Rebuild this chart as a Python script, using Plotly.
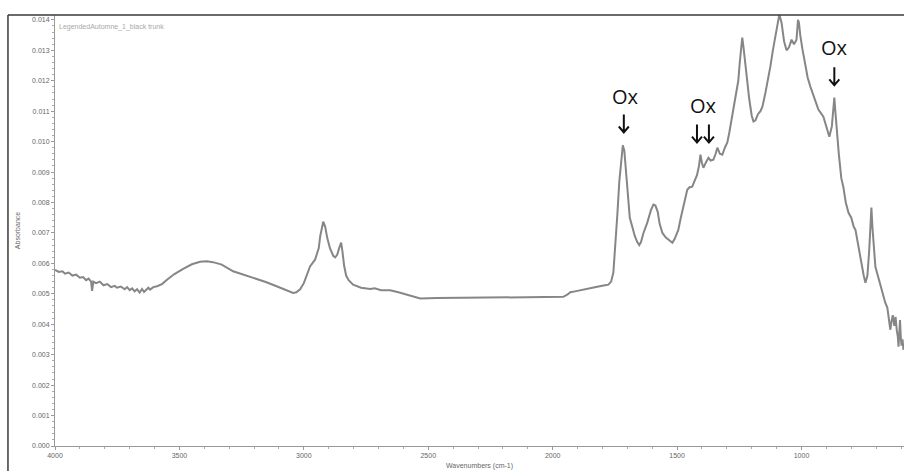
import plotly.graph_objects as go

# FTIR spectrum: wavenumber (cm-1) and absorbance
wavenumber = [
    4000, 3985, 3970, 3960, 3945, 3930, 3915, 3900, 3887, 3875, 3865, 3855,
    3851, 3846, 3835, 3820, 3805, 3790, 3775, 3760, 3751, 3735, 3720, 3710,
    3700, 3690, 3680, 3670, 3660, 3650, 3642, 3635, 3625, 3618, 3605, 3590,
    3570, 3550, 3520, 3485, 3450, 3417, 3390, 3365, 3330, 3284, 3240, 3188,
    3150, 3107, 3070, 3043, 3030, 3015, 3000, 2990, 2975, 2955, 2940, 2934,
    2922, 2914, 2906, 2895, 2882, 2874, 2866, 2858, 2850, 2845, 2838, 2830,
    2820, 2802, 2770, 2733, 2715, 2690, 2653, 2620, 2585, 2532, 2464, 2291,
    2100, 1957, 1940, 1929, 1910, 1890, 1861, 1840, 1821, 1800, 1790, 1776,
    1765, 1756, 1748, 1740, 1732, 1725, 1718, 1712, 1705, 1700, 1696, 1690,
    1680, 1670, 1660, 1652, 1645, 1635, 1620, 1605, 1595, 1587, 1578, 1570,
    1559, 1545, 1530, 1519, 1510, 1500, 1495, 1485, 1475, 1465, 1459, 1450,
    1439, 1430, 1420, 1412, 1406, 1400, 1394, 1385, 1374, 1365, 1354, 1345,
    1338, 1328, 1318, 1308, 1298, 1290, 1282, 1274, 1265, 1254, 1248, 1242,
    1238, 1233, 1228, 1220, 1210, 1200, 1193, 1185, 1175, 1165, 1157, 1145,
    1135, 1125, 1115, 1105, 1097, 1089, 1080, 1070, 1060, 1050, 1040, 1030,
    1020, 1014, 1010, 1005, 996, 985, 975, 964, 950, 932, 912, 900,
    888, 878, 872, 868, 864, 858, 850, 840, 832, 822, 811, 800,
    790, 783, 770, 760, 750, 743, 735, 728, 723, 719, 715, 710,
    703, 690, 675, 668, 663, 655, 648, 643, 638, 633, 627, 622,
    617, 613, 610, 606, 604, 601, 598, 594, 590,
]
absorbance = [
    0.00579, 0.00572, 0.00574, 0.00566, 0.00570, 0.00560, 0.00563, 0.00553, 0.00555, 0.00545, 0.00550, 0.00540,
    0.00510, 0.00540, 0.00535, 0.00540, 0.00528, 0.00532, 0.00522, 0.00526, 0.00520, 0.00524, 0.00515, 0.00522,
    0.00512, 0.00518, 0.00508, 0.00515, 0.00504, 0.00516, 0.00506, 0.00512, 0.00520, 0.00514, 0.00522, 0.00525,
    0.00532, 0.00546, 0.00565, 0.00582, 0.00597, 0.00605, 0.00607, 0.00604, 0.00596, 0.00574, 0.00562, 0.00550,
    0.00538, 0.00524, 0.00512, 0.00503, 0.00505, 0.00515, 0.00535, 0.00555, 0.00590, 0.00612, 0.00650, 0.00690,
    0.00737, 0.00720, 0.00684, 0.00650, 0.00625, 0.00620, 0.00628, 0.00650, 0.00668, 0.00640, 0.00592, 0.00560,
    0.00545, 0.00530, 0.00520, 0.00516, 0.00518, 0.00512, 0.00512, 0.00505, 0.00497, 0.00485, 0.00486, 0.00487,
    0.00488, 0.00490, 0.00498, 0.00505, 0.00508, 0.00512, 0.00516, 0.00520, 0.00523, 0.00525, 0.00528, 0.00530,
    0.00540, 0.00570, 0.00650, 0.00760, 0.00870, 0.00940, 0.00988, 0.00970, 0.00900, 0.00830, 0.00786, 0.00750,
    0.00720, 0.00690, 0.00670, 0.00660, 0.00670, 0.00700, 0.00733, 0.00775, 0.00793, 0.00790, 0.00770, 0.00730,
    0.00700, 0.00685, 0.00675, 0.00668, 0.00680, 0.00700, 0.00710, 0.00750, 0.00790, 0.00830, 0.00842, 0.00850,
    0.00852, 0.00870, 0.00890, 0.00920, 0.00957, 0.00930, 0.00914, 0.00930, 0.00947, 0.00938, 0.00941, 0.00960,
    0.00980, 0.00960, 0.00957, 0.00980, 0.00997, 0.01030, 0.01070, 0.01115, 0.01160, 0.01200, 0.01260, 0.01320,
    0.01342, 0.01310, 0.01270, 0.01210, 0.01140, 0.01085, 0.01066, 0.01070, 0.01090, 0.01100, 0.01115, 0.01160,
    0.01200, 0.01247, 0.01300, 0.01345, 0.01390, 0.01418, 0.01390, 0.01330, 0.01300, 0.01310, 0.01335, 0.01320,
    0.01335, 0.01400, 0.01390, 0.01350, 0.01303, 0.01250, 0.01210, 0.01180, 0.01150, 0.01105, 0.01082, 0.01050,
    0.01016, 0.01050, 0.01120, 0.01145, 0.01100, 0.01030, 0.00960, 0.00880, 0.00852, 0.00800, 0.00766, 0.00750,
    0.00720, 0.00710, 0.00650, 0.00600, 0.00560, 0.00536, 0.00560, 0.00640, 0.00740, 0.00783, 0.00720, 0.00650,
    0.00589, 0.00550, 0.00503, 0.00490, 0.00470, 0.00455, 0.00420, 0.00382, 0.00410, 0.00430, 0.00395, 0.00424,
    0.00380, 0.00360, 0.00326, 0.00380, 0.00414, 0.00360, 0.00330, 0.00350, 0.00316,
]

x_ticks = [4000, 3500, 3000, 2500, 2000, 1500, 1000]
y_ticks = [i / 1000 for i in range(15)]
y_tick_text = ["%.3f" % v for v in y_ticks]

fig = go.Figure()
fig.add_trace(go.Scatter(
    x=wavenumber, y=absorbance, mode="lines",
    line=dict(color="#868686", width=2),
    hoverinfo="skip", showlegend=False,
))

tick_font = dict(family="Liberation Sans", size=7, color="#666666")

fig.update_layout(
    width=904, height=471,
    margin=dict(l=55, r=0, t=15, b=25),
    paper_bgcolor="white", plot_bgcolor="white",
    font=dict(family="Liberation Sans"),
    xaxis=dict(
        range=[4000, 588], tickvals=x_ticks, ticktext=[str(v) for v in x_ticks],
        showgrid=False, zeroline=False, showline=True, linecolor="#9a9a9a", linewidth=1,
        ticks="outside", ticklen=3, tickcolor="#9a9a9a", tickfont=tick_font,
        minor=dict(dtick=100, tick0=0, ticks="outside", ticklen=2, tickcolor="#aaaaaa"),
        title=dict(text="Wavenumbers (cm-1)", font=dict(family="Liberation Sans", size=7, color="#666666"), standoff=4),
    ),
    yaxis=dict(
        range=[0, 0.01416], tickvals=y_ticks, ticktext=y_tick_text,
        showgrid=False, zeroline=False, showline=True, linecolor="#9a9a9a", linewidth=1,
        ticks="outside", ticklen=3, tickcolor="#9a9a9a", tickfont=tick_font,
        minor=dict(dtick=0.0002, tick0=0, ticks="outside", ticklen=2, tickcolor="#aaaaaa"),
        title=dict(text="Absorbance", font=dict(family="Liberation Sans", size=7, color="#666666"), standoff=10),
    ),
)

# outer frame (left and top edges)
fig.add_shape(type="line", xref="paper", yref="paper", x0=-0.0554, x1=-0.0554, y0=-0.06, y1=1.0,
              line=dict(color="#3a3a3a", width=1.5))
fig.add_shape(type="line", xref="paper", yref="paper", x0=-0.0554, x1=1.0, y0=1.0, y1=1.0,
              line=dict(color="#3a3a3a", width=1.5))

# sample name
fig.add_annotation(text="LegendedAutomne_1_black trunk", xref="paper", yref="paper",
                   x=0.002, y=0.985, xanchor="left", yanchor="top", showarrow=False,
                   font=dict(family="Liberation Sans", size=7, color="#a8a8a8"))

# oxidation band labels
ox_font = dict(family="Open Sans", size=20, color="#111111")
for wx, wy in [(1708, 0.01147), (1394, 0.01120), (868, 0.01310)]:
    fig.add_annotation(text="Ox", x=wx, y=wy, showarrow=False, font=ox_font)

# down arrows (tip at anchor, drawn in pixels)
arrow_path = "M0,0 L0,18 M-5,6 L0,0 L5,6"
for wx, wy in [(1714, 0.01030), (1420, 0.00997), (1372, 0.00997), (868, 0.01185)]:
    fig.add_shape(type="path", path=arrow_path,
                  xref="x", yref="y", xsizemode="pixel", ysizemode="pixel",
                  xanchor=wx, yanchor=wy,
                  line=dict(color="#111111", width=2))

fig.write_html("out.html")
